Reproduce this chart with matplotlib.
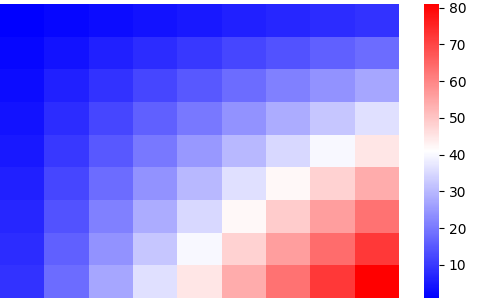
import matplotlib
matplotlib.use("Agg")
import matplotlib.pyplot as plt
import numpy as np

rows = [
    [1, 2, 3, 4, 5, 6, 7, 8, 9],
    [2, 4, 6, 8, 10, 12, 14, 16, 18],
    [3, 6, 9, 12, 15, 18, 21, 24, 27],
    [4, 8, 12, 16, 20, 24, 28, 32, 36],
    [5, 10, 15, 20, 25, 30, 35, 40, 45],
    [6, 12, 18, 24, 30, 36, 42, 48, 54],
    [7, 14, 21, 28, 35, 42, 49, 56, 63],
    [8, 16, 24, 32, 40, 48, 56, 64, 72],
    [9, 18, 27, 36, 45, 54, 63, 72, 81],
]
cbar_ticks = [10, 20, 30, 40, 50, 60, 70, 80]

data = np.array(rows)
fig = plt.figure(figsize=(5, 3), dpi=100)
ax = fig.add_axes([0, 2/300, 399/500, 294/300])
cax = fig.add_axes([424/500, 2/300, 15/500, 294/300])
mesh = ax.pcolormesh(data, cmap="bwr", vmin=data.min(), vmax=data.max())
ax.set_xlim(0, data.shape[1])
ax.set_ylim(data.shape[0], 0)
ax.axis("off")
cb = fig.colorbar(mesh, cax=cax, ticks=cbar_ticks)
cb.outline.set_visible(False)
cax.tick_params(labelsize=10)
fig.savefig("out.png", dpi=100)
